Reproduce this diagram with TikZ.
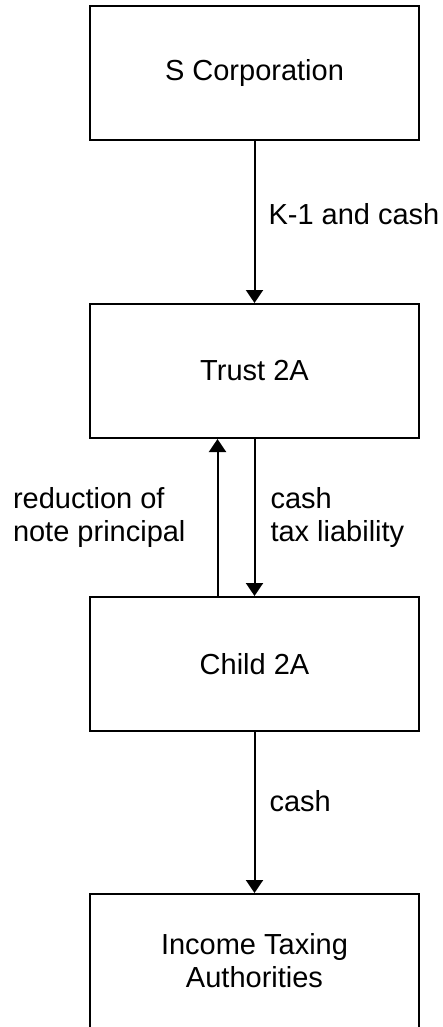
\documentclass[tikz,border=0pt]{standalone}
\usepackage{fontspec}
\setmainfont{Liberation Sans}
\usetikzlibrary{arrows.meta,positioning}

\begin{document}
\begin{tikzpicture}[
	x=1pt, y=1pt,
	node distance=162pt,
	font=\fontsize{29}{33}\selectfont,
	block/.style={draw=black, line width=2pt, align=center, minimum width=329pt, minimum height=134pt, inner sep=0pt},
	arr/.style={-{Triangle[length=13pt, width=17pt]}, line width=2pt},
	lbl/.style={align=left, inner sep=0pt}
	]
	\useasboundingbox (0,0) rectangle (442,-1027);
	\node[block] (scorp) at (254.5,-73) {S Corporation};
	\node[block, below=of scorp] (trust) {Trust 2A};
	\node[block, below=157pt of trust] (child) {Child 2A};
	\node[block, below=161pt of child] (tax) {Income Taxing\\Authorities};
	\draw[arr] (scorp) -- node[lbl, pos=0.45, right=13pt] {K-1 and cash} (trust);
	\draw[arr] (trust) -- node[lbl, right=15pt] {cash\\tax liability} (child);
	\draw[arr] ([xshift=-37pt]child.north) -- node[lbl, left=31pt] {reduction of\\note principal} ([xshift=-37pt]trust.south);
	\draw[arr] (child) -- node[lbl, pos=0.43, right=14pt] {cash} (tax);
\end{tikzpicture}
\end{document}
